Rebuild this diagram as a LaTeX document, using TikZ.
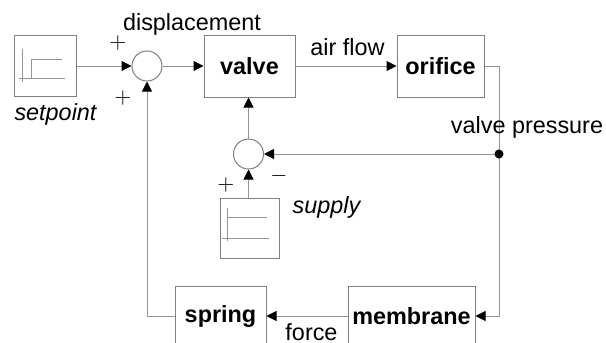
\documentclass[tikz,border=0pt]{standalone}
\usepackage{fontspec}
\setmainfont{Liberation Sans}
\usetikzlibrary{
    arrows.meta,
    positioning
}
\definecolor{wire}{gray}{0.58}
\definecolor{boxline}{gray}{0.5}

\begin{document}
\begin{tikzpicture}[x=0.5pt, y=-0.5pt,
    block/.style={draw=boxline, line width=0.5pt, inner sep=0pt,
        minimum height=31pt, font=\bfseries\fontsize{11.7}{13}\selectfont},
    source/.style={draw=boxline, line width=0.5pt, inner sep=0pt},
    summer/.style={circle, draw=boxline, line width=0.5pt, inner sep=0pt, minimum size=15pt},
    lbl/.style={inner sep=0pt, font=\fontsize{11.7}{13}\selectfont},
    sign/.style={inner sep=0pt, font=\fontsize{11}{11}\selectfont},
    link/.style={draw=wire, line width=0.5pt},
    flow/.style={link, -{Triangle[length=5pt, width=5pt, color=black]}}
]
    % Frame
    \clip (0,0) rectangle (606,343);
    \fill[white] (0,0) rectangle (606,343);

    % Blocks
    \node[source, minimum width=31pt, minimum height=30.5pt] (setp) at (45,66) {};
    \node[summer] (sum1) at (147,66) {};
    \node[block, minimum width=45.5pt] (valve) at (249.5,66) {valve};
    \node[block, minimum width=43.5pt] (orifice) at (440.5,66) {orifice};
    \node[summer] (sum2) at (248.5,154) {};
    \node[source, minimum width=29.5pt, minimum height=30pt] (supply) at (249.5,228) {};
    \node[block, minimum width=45.5pt, minimum height=30pt] (spring) at (220.5,316) {spring};
    \node[block, minimum width=63.5pt, minimum height=30pt] (membrane) at (411.5,316) {membrane};
    \coordinate (tap) at (499,154);

    % Step symbols inside the sources
    \draw[wire, line width=0.5pt] (22,49) -- (22,82) (19,78) -- (65,78) (31,78) -- (31,59) -- (62,59);
    \draw[wire, line width=0.5pt] (227,208) -- (227,241) (228,217) -- (267,217) (222,238) -- (269,238);

    % Connections
    \draw[flow] (setp.east |- sum1) -- (sum1.west);
    \draw[flow] (sum1.east) -- (valve.west);
    \draw[flow] (valve.east) -- (orifice.west);
    \draw[link] (orifice.east) -| (tap);
    \draw[flow] (tap) -- (sum2.east);
    \draw[flow] (tap) |- (membrane.east);
    \draw[flow] (membrane.west) -- (spring.east);
    \draw[flow] (spring.west) -| (sum1.south);
    \draw[flow] (supply.north -| sum2) -- (sum2.south);
    \draw[flow] (sum2.north) -- (sum2 |- valve.south);
    \fill (tap) circle (4.5);

    % Signs
    \node[sign] (p1) at (118,43) {$+$};
    \node[sign] (p2) at (123,98) {$+$};
    \node[sign] (p3) at (226,185) {$+$};
    \node[sign] (m1) at (279,176) {$-$};

    % Labels
    \node[lbl] (ldisp) at (192,24) {displacement};
    \node[lbl] (lair) at (347.5,47.5) {air flow};
    \node[lbl] (lpres) at (527,127) {valve pressure};
    \node[lbl, font=\itshape\fontsize{11.7}{13}\selectfont] (lsetp) at (55.5,114) {setpoint};
    \node[lbl, font=\itshape\fontsize{11.7}{13}\selectfont] (lsup) at (326.5,207.5) {supply};
    \node[lbl] (lforce) at (311.5,332.5) {force};
\end{tikzpicture}
\end{document}
